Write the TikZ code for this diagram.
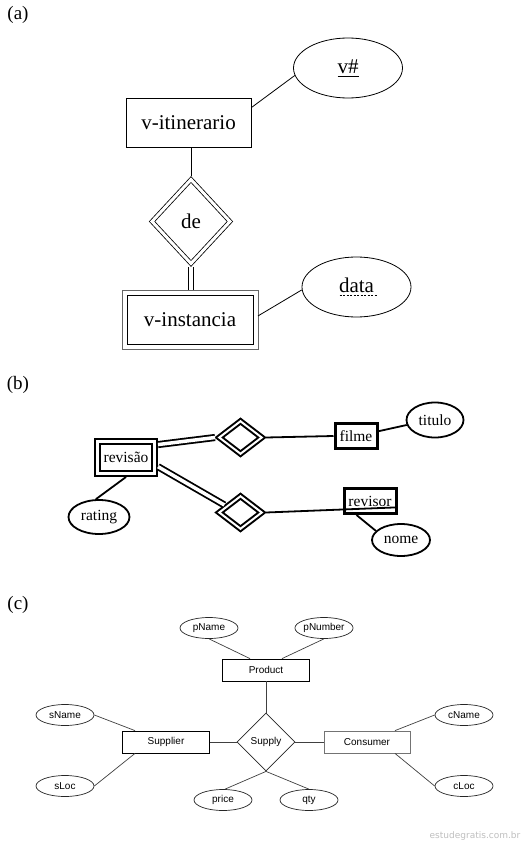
\documentclass[tikz,border=0pt]{standalone}
\usepackage{fontspec}
\setmainfont{Liberation Serif}
\newfontfamily\arialf{Liberation Sans}
\newfontfamily\wmfont{DejaVu Sans}
\usetikzlibrary{shapes.geometric,calc}
\newcommand\mysolidul[1]{\leavevmode\setbox0=\hbox{#1}\rlap{\raisebox{-3.5pt}{\rule{\wd0}{0.9pt}}}\box0}
\newcommand\mydashul[1]{\leavevmode\setbox0=\hbox{#1}\rlap{\raisebox{-3.5pt}{\hbox to \dimexpr\wd0+4pt\relax{\leaders\hbox to 3.5pt{\hss\rule{2.2pt}{0.9pt}\hss}\hfill}}}\box0}
\begin{document}
\begin{tikzpicture}[x=1pt,y=-1pt,
  lab/.style={font=\fontsize{19}{19}\selectfont, inner sep=0},
  fA/.style={font=\fontsize{21}{21}\selectfont},
  attA/.style={fA, ellipse, draw, line width=0.8pt, minimum width=109, minimum height=60, inner sep=0},
  entA/.style={fA, rectangle, draw, line width=0.8pt, inner sep=0},
  relA/.style={fA, diamond, draw, double, double distance=3pt, line width=0.8pt, minimum width=80, minimum height=86, inner sep=0, outer sep=2.5pt},
  lnA/.style={line width=0.8pt},
  fB/.style={font=\fontsize{15.5}{15.5}\selectfont},
  entB/.style={fB, rectangle, draw, line width=3pt, inner sep=0},
  wentB/.style={fB, rectangle, draw, double, double distance=3pt, line width=2pt, inner sep=0, outer sep=3.5pt},
  relB/.style={diamond, draw, double, double distance=2pt, line width=2pt, minimum width=45, minimum height=35, inner sep=0, outer sep=3pt},
  attB/.style={fB, ellipse, draw, line width=1.8pt, inner sep=0},
  lnB/.style={line width=1.8pt},
  dlnB/.style={line width=1.8pt, double, double distance=3.5pt},
  fC/.style={font=\arialf\fontsize{10}{10}\selectfont},
  attC/.style={fC, ellipse, draw=black!85, line width=0.7pt, minimum width=58, minimum height=21, inner sep=0},
  entC/.style={fC, rectangle, draw, line width=0.8pt, minimum width=87, minimum height=22, inner sep=0},
  relC/.style={fC, diamond, draw=black!85, line width=0.8pt, minimum width=58, minimum height=58, inner sep=0},
  lnC/.style={draw=black!75, line width=0.7pt}
]
\useasboundingbox (0,0) rectangle (527,845);
\fill[white] (0,0) rectangle (527,845);

% ---------- (a)
\node[lab] (la) at (18,15) {(a)};
\node[attA] (vnum) at (348,68) {\mysolidul{v\#}};
\node[entA, minimum width=125, minimum height=49] (vit) at (188.5,122.5) {v-itinerario};
\node[relA] (de) at (191,221.5) {de};
\node[entA, minimum width=126, minimum height=49, outer sep=5pt] (vinst) at (190,319.5) {v-instancia};
\draw[black!60, line width=0.8pt] (vinst.south west) rectangle (vinst.north east);
\node[attA] (data) at (356.5,287) {\mydashul{data}};

\draw[lnA] ($(vit.north east)!0.2!(vit.south east)$) -- (vnum.188);
\draw[lnA] (vit.south -| de.north) -- (de.north);
\draw[lnA, double, double distance=4pt] (de.south) -- (vinst.north -| de.south);
\draw[lnA] (vinst.3) -- (data.183);

% ---------- (b)
\node[lab] (lb) at (18,385) {(b)};
\node[wentB, minimum width=57, minimum height=32] (rev) at (126,457.5) {revisão};
\node[relB] (d1) at (240.5,437.5) {};
\node[relB] (d2) at (240.5,512.5) {};
\node[entB, minimum width=42, minimum height=25] (filme) at (356,436) {filme};
\node[entB, minimum width=52, minimum height=25] (revisor) at (370,501) {revisor};
\node[attB, minimum width=57, minimum height=35] (titulo) at (435,420) {titulo};
\node[attB, minimum width=58, minimum height=32] (nome) at (401,540) {nome};
\node[attB, minimum width=61, minimum height=34] (rating) at (99,517) {rating};

\draw[dlnB] (rev.22) -- (d1.west);
\draw[dlnB] (rev.-16) -- (d2.155);
\draw[lnB] (d1.east) -- (filme.west);
\draw[lnB] (d2.east) -- (revisor.-13);
\draw[lnB] (filme.12) -- (titulo.190);
\draw[lnB] (revisor.226) -- (nome.160);
\draw[lnB] (rev.south) -- (rating.100);

% ---------- (c)
\node[lab] (lc) at (18,605) {(c)};
\node[attC] (pname) at (209,628) {pName};
\node[attC] (pnum) at (324,628) {pNumber};
\node[entC] (prod) at (266,670) {Product};
\node[relC] (supply) at (266,742) {Supply};
\node[entC] (sup) at (166,742) {Supplier};
\node[entC, draw=black!55, minimum width=86] (con) at (367,742) {Consumer};
\node[attC] (sname) at (65,715) {sName};
\node[attC] (sloc) at (65,786) {sLoc};
\node[attC] (cname) at (464,715) {cName};
\node[attC] (cloc) at (464,786) {cLoc};
\node[attC] (price) at (223,800) {price};
\node[attC] (qty) at (309,800) {qty};

\draw[lnC] (pname.south) -- ([xshift=-16pt]prod.north);
\draw[lnC] (pnum.south) -- ([xshift=16pt]prod.north);
\draw[lnC] (prod.south) -- (supply.north);
\draw[lnC] (sup.east) -- (supply.west);
\draw[lnC] (supply.east) -- (con.west);
\draw[lnC] (sname.east) -- ([xshift=-31pt]sup.north);
\draw[lnC] (sloc.east) -- ([xshift=-31pt]sup.south);
\draw[lnC] (cname.west) -- ([xshift=28pt]con.north);
\draw[lnC] (cloc.west) -- ([xshift=28pt]con.south);
\draw[lnC] (supply.south) -- (price.80);
\draw[lnC] (supply.south) -- (qty.north);

\node[font=\wmfont\fontsize{9}{9}\selectfont, text=black!25, inner sep=0] (wm) at (475,836) {estudegratis.com.br};
\end{tikzpicture}
\end{document}
